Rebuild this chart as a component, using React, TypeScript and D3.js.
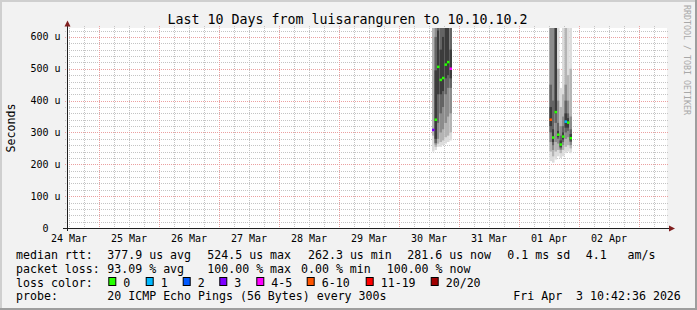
import React from "react";
import * as d3 from "d3";

// ---------- data ----------
const TITLE = "Last 10 Days from luisaranguren to 10.10.10.2";
const TIME_START = "2026-03-24T11:12:00Z";
const TIME_END = "2026-04-03T11:12:00Z";
const Y_MAX = 628; // microseconds
const Y_MAJOR = [0, 100, 200, 300, 400, 500, 600];
const Y_LABELS = ["0  ", "100 u", "200 u", "300 u", "400 u", "500 u", "600 u"];
const DAY_LABELS = ["24 Mar", "25 Mar", "26 Mar", "27 Mar", "28 Mar", "29 Mar", "30 Mar", "31 Mar", "01 Apr", "02 Apr"];

// one sample per hour (interval start)
const SAMPLE_TIMES = [
  "2026-03-30T13:12:00Z", "2026-03-30T14:12:00Z", "2026-03-30T15:12:00Z", "2026-03-30T16:12:00Z",
  "2026-03-30T17:12:00Z", "2026-03-30T18:12:00Z", "2026-03-30T19:12:00Z", "2026-03-30T20:12:00Z",
  "2026-04-01T12:12:00Z", "2026-04-01T13:12:00Z", "2026-04-01T14:12:00Z", "2026-04-01T15:12:00Z",
  "2026-04-01T16:12:00Z", "2026-04-01T17:12:00Z", "2026-04-01T18:12:00Z", "2026-04-01T19:12:00Z",
  "2026-04-01T20:12:00Z",
];
const MEDIAN = [308, 340, 506, 465, 471, 513, 521, 500, 340, 284, 364, 293, 262, 287, 334, 331, 282];
const LOSS = [3, 0, 0, 0, 0, 0, 0, 4, 7, 0, 0, 0, 0, 0, 1, 0, 0];
// smoke bands (µs), outermost (1) to innermost (5): low / high edge per sample
const S1_LO = [240, 245, 255, 255, 260, 265, 270, 275, 210, 205, 215, 225, 220, 225, 235, 240, 235];
const S1_HI = [900, 900, 900, 900, 900, 900, 900, 900, 900, 900, 900, 900, 440, 900, 900, 900, 900];
const S2_LO = [290, 255, 265, 270, 275, 285, 290, 300, 240, 225, 240, 245, 235, 245, 255, 260, 250];
const S2_HI = [900, 900, 900, 900, 900, 900, 900, 900, 900, 900, 900, 500, 380, 420, 900, 480, 500];
const S3_LO = [0, 262, 280, 300, 310, 330, 350, 360, 270, 245, 270, 265, 245, 260, 280, 285, 260];
const S3_HI = [0, 900, 900, 900, 900, 900, 900, 900, 800, 700, 900, 400, 320, 350, 450, 400, 350];
const S4_LO = [0, 267, 330, 360, 380, 420, 440, 440, 300, 260, 330, 280, 250, 270, 300, 305, 270];
const S4_HI = [0, 600, 900, 900, 900, 900, 900, 700, 450, 400, 900, 330, 290, 320, 400, 360, 310];
const S5_LO = [0, 280, 420, 420, 430, 470, 480, 470, 320, 270, 360, 285, 255, 278, 315, 315, 275];
const S5_HI = [0, 495, 620, 560, 600, 640, 650, 560, 380, 310, 900, 305, 275, 300, 360, 345, 295];
const SMOKE_COLORS = ["#dcdcdc", "#b4b4b4", "#8c8c8c", "#646464", "#3c3c3c"];

const LOSS_LEVELS = [0, 1, 2, 3, 5, 10, 19, 20];
const LOSS_COLORS = ["#26ff00", "#00b8ff", "#0059ff", "#7e00ff", "#ff00ff", "#ff5500", "#ff0000", "#a00000"];
const LOSS_NAMES = ["0", "1", "2", "3", "4-5", "6-10", "11-19", "20/20"];

const LEGEND_RTT = ["median rtt:", "377.9 us avg", "524.5 us max", "262.3 us min", "281.6 us now", "0.1 ms sd", "4.1   am/s"];
const LEGEND_LOSS = ["packet loss:", "93.09 % avg", "100.00 % max", "0.00 % min", "100.00 % now"];
const PROBE_LABEL = "probe:";
const PROBE_TEXT = "20 ICMP Echo Pings (56 Bytes) every 300s";
const STAMP = "Fri Apr  3 10:42:36 2026";
const WATERMARK = "RRDTOOL / TOBI OETIKER";

// ---------- layout ----------
const W = 697, H = 310;
const L = 67, R = 667, T = 28, B = 228;
const MONO = "DejaVu Sans Mono";
const RTT_X = [16, 107.3, 207.3, 308, 407.3, 507.3, 585.7];
const LOSS_X = [16, 107.3, 207.3, 301, 386.7];
const BOX_X = [108.3, 145.7, 182.7, 219.3, 256.3, 306.7, 365.7, 430.7];

export default function App() {
  const x = d3.scaleUtc().domain([new Date(TIME_START), new Date(TIME_END)]).range([L, R]);
  const y = d3.scaleLinear().domain([0, Y_MAX]).range([B, T]);
  const t0 = new Date(TIME_START), t1 = new Date(TIME_END);

  const midnights = d3.utcDay.range(d3.utcDay.ceil(t0), t1);
  const sixHours = d3.utcHour.every(6)!.range(d3.utcHour.ceil(t0), t1).filter((d) => d.getUTCHours() !== 0);
  const noons = d3.utcDay.range(d3.utcDay.floor(t0), t1).map((d) => d3.utcHour.offset(d, 12));
  const yMinor = d3.range(20, Y_MAX, 20).filter((v) => v % 100 !== 0);
  const px = (v: number) => Math.round(v) + 0.5;

  const lossColor = (l: number) => {
    const i = LOSS_LEVELS.findIndex((v) => l <= v);
    return LOSS_COLORS[i < 0 ? LOSS_COLORS.length - 1 : i];
  };

  const samples = SAMPLE_TIMES.map((s, i) => {
    const a = new Date(s);
    const b = d3.utcHour.offset(a, 1);
    return { x0: x(a), x1: x(b), i };
  });

  const bandsLo = [S1_LO, S2_LO, S3_LO, S4_LO, S5_LO];
  const bandsHi = [S1_HI, S2_HI, S3_HI, S4_HI, S5_HI];

  const band = (lo: number, hi: number) => {
    if (!(hi > lo)) return null;
    const yt = Math.max(T, y(hi));
    const yb = Math.min(B, y(lo));
    return { y: yt, h: yb - yt };
  };

  const textStyle: React.CSSProperties = { whiteSpace: "pre" };

  return (
    <svg width={W} height={H} style={{ position: "absolute", left: 0, top: 0, display: "block" }}>
      <defs>
        <clipPath id="plotclip"><rect x={L} y={T} width={R - L} height={B - T} /></clipPath>
      </defs>
      {/* background + 3D frame */}
      <rect x={0} y={0} width={W} height={H} fill="#f2f2f2" />
      <rect x={0} y={0} width={W} height={2} fill="#cfcfcf" />
      <rect x={0} y={0} width={2} height={H} fill="#cfcfcf" />
      <rect x={0} y={H - 2} width={W} height={2} fill="#9e9e9e" />
      <rect x={W - 2} y={0} width={2} height={H} fill="#9e9e9e" />
      {/* canvas */}
      <rect x={L} y={T} width={R - L} height={B - T} fill="#ffffff" />

      {/* minor grid */}
      <g stroke="#c4c4c4" strokeWidth={1} strokeDasharray="1,1">
        {yMinor.map((v) => (
          <line key={"ym" + v} x1={L - 2} x2={R + 2} y1={px(y(v))} y2={px(y(v))} />
        ))}
        {sixHours.map((d) => (
          <line key={"xm" + d.getTime()} x1={px(x(d))} x2={px(x(d))} y1={T - 2} y2={B + 2} />
        ))}
      </g>
      {/* major grid */}
      <g stroke="#eba0a0" strokeWidth={1} strokeDasharray="1,1">
        {Y_MAJOR.filter((v) => v > 0).map((v) => (
          <line key={"yM" + v} x1={L - 2} x2={R + 2} y1={px(y(v))} y2={px(y(v))} />
        ))}
        {midnights.map((d) => (
          <line key={"xM" + d.getTime()} x1={px(x(d))} x2={px(x(d))} y1={T - 2} y2={B + 2} />
        ))}
      </g>

      {/* smoke */}
      <g clipPath="url(#plotclip)">
        {samples.map((s) => (
          <g key={"s" + s.i}>
            {bandsLo.map((lo, k) => {
              const bb = band(lo[s.i], bandsHi[k][s.i]);
              return bb ? (
                <rect key={k} x={s.x0} y={bb.y} width={s.x1 - s.x0} height={bb.h} fill={SMOKE_COLORS[k]} />
              ) : null;
            })}
          </g>
        ))}
        {samples.map((s) => (
          <rect key={"m" + s.i} x={s.x0} y={y(MEDIAN[s.i]) - 1.25} width={s.x1 - s.x0} height={2.5} fill={lossColor(LOSS[s.i])} />
        ))}
      </g>

      {/* axes */}
      <line x1={L - 4} x2={R + 2} y1={B + 0.5} y2={B + 0.5} stroke="#1f1f1f" />
      <line x1={L + 0.5} x2={L + 0.5} y1={B + 3} y2={T - 2} stroke="#1f1f1f" />
      <path d={`M${L - 2.5},${T - 1.5} L${L + 3.5},${T - 1.5} L${L + 0.5},${T - 7.5} Z`} fill="#801f1f" />
      <path d={`M${R + 2},${B - 2.5} L${R + 2},${B + 3.5} L${R + 8},${B + 0.5} Z`} fill="#801f1f" />

      {/* y labels */}
      <g fontFamily={MONO} fontSize={10} fill="#000" textAnchor="end">
        {Y_MAJOR.map((v, i) => (
          <text key={"yl" + v} x={60.5} y={y(v) + 3.5} style={textStyle}>{Y_LABELS[i]}</text>
        ))}
      </g>
      {/* x labels */}
      <g fontFamily={MONO} fontSize={10} fill="#000" textAnchor="middle">
        {noons.filter((d) => x(d) >= L - 5 && x(d) <= R).map((d, i) => (
          <text key={"xl" + i} x={x(d)} y={241.5}>{DAY_LABELS[i]}</text>
        ))}
      </g>

      {/* title */}
      <text x={347.5} y={24} fontFamily={MONO} fontSize={13.3} textAnchor="middle" fill="#000">{TITLE}</text>
      {/* y-axis title */}
      <text transform="translate(15,128) rotate(-90)" fontFamily={MONO} fontSize={11.6} textAnchor="middle" fill="#000">Seconds</text>
      {/* watermark */}
      <text transform="translate(684,5) rotate(90)" fontFamily={MONO} fontSize={8.3} fill="#a8a8a8">{WATERMARK}</text>

      {/* legend */}
      <g fontFamily={MONO} fontSize={11.6} fill="#000">
        {LEGEND_RTT.map((s, i) => (
          <text key={"r" + i} x={RTT_X[i]} y={258.5} style={textStyle}>{s}</text>
        ))}
        {LEGEND_LOSS.map((s, i) => (
          <text key={"p" + i} x={LOSS_X[i]} y={272.5} style={textStyle}>{s}</text>
        ))}
        <text x={16} y={286.5} style={textStyle}>loss color:</text>
        {LOSS_NAMES.map((s, i) => (
          <g key={"lc" + i}>
            <rect x={BOX_X[i] + 0.5} y={277.5} width={7} height={8} fill={LOSS_COLORS[i]} stroke="#000" />
            <text x={BOX_X[i] + 15} y={286.5} style={textStyle}>{s}</text>
          </g>
        ))}
        <text x={16} y={300} style={textStyle}>{PROBE_LABEL}</text>
        <text x={107.3} y={300} style={textStyle}>{PROBE_TEXT}</text>
        <text x={513.3} y={300} style={textStyle}>{STAMP}</text>
      </g>
    </svg>
  );
}
